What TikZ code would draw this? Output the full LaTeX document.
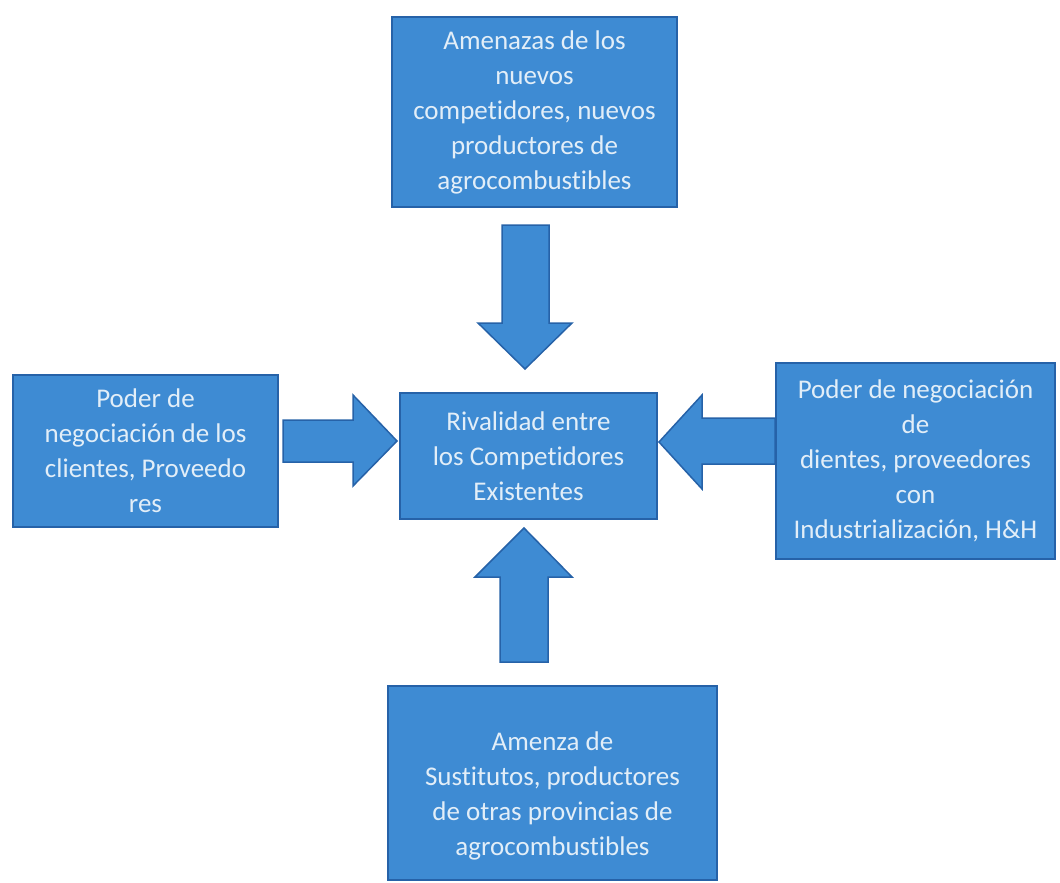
\documentclass[tikz,border=0pt]{standalone}
\usepackage{fontspec}
\setmainfont{Carlito}[Ligatures=NoCommon]
\definecolor{boxfill}{RGB}{62,139,211}
\definecolor{boxline}{RGB}{38,98,168}
\definecolor{boxtext}{RGB}{226,238,248}
\begin{document}
\begin{tikzpicture}[x=1pt,y=-1pt,
  forcebox/.style={draw=boxline,line width=2pt,fill=boxfill,text=boxtext,
    align=center,inner sep=0pt,
    font=\fontsize{27}{35}\selectfont},
  blockarrow/.style={draw=boxline,line width=1.5pt,fill=boxfill,line join=miter}]
\useasboundingbox (0,0) rectangle (1060,883);
% boxes
\node[forcebox,minimum width=285pt,minimum height=190pt] (nuevos) at (534.5,112)
  {Amenazas de los\\nuevos\\competidores, nuevos\\productores de\\agrocombustibles};
\node[forcebox,minimum width=257pt,minimum height=126pt] (rival) at (528.5,456)
  {Rivalidad entre\\los Competidores\\Existentes};
\node[forcebox,minimum width=265pt,minimum height=152pt] (clientes) at (145.5,451)
  {Poder de\\negociación de los\\clientes, Proveedo\\res};
\node[forcebox,minimum width=279pt,minimum height=196pt] (industria) at (915.5,461)
  {Poder de negociación\\de\\dientes, proveedores\\con\\Industrialización, H\&H};
\node[forcebox,minimum width=329pt,minimum height=194pt] (sustitutos) at (552.5,783) {};
\node[forcebox,draw=none,fill=none] (sustxt) at (552.5,796)
  {Amenza de\\Sustitutos, productores\\de otras provincias de\\agrocombustibles};
% block arrows
\draw[blockarrow] (502,225) -- (549,225) -- (549,323) -- (572,323) -- (525,369)
  -- (478,323) -- (502,323) -- cycle;
\draw[blockarrow] (500,662) -- (548,662) -- (548,577) -- (572,577) -- (524,528)
  -- (475,577) -- (500,577) -- cycle;
\draw[blockarrow] (283,420) -- (353,420) -- (353,395) -- (397,441) -- (353,486)
  -- (353,462) -- (283,462) -- cycle;
\draw[blockarrow] (775,418) -- (702,418) -- (702,395) -- (659,442) -- (702,489)
  -- (702,464) -- (775,464) -- cycle;
\end{tikzpicture}
\end{document}
